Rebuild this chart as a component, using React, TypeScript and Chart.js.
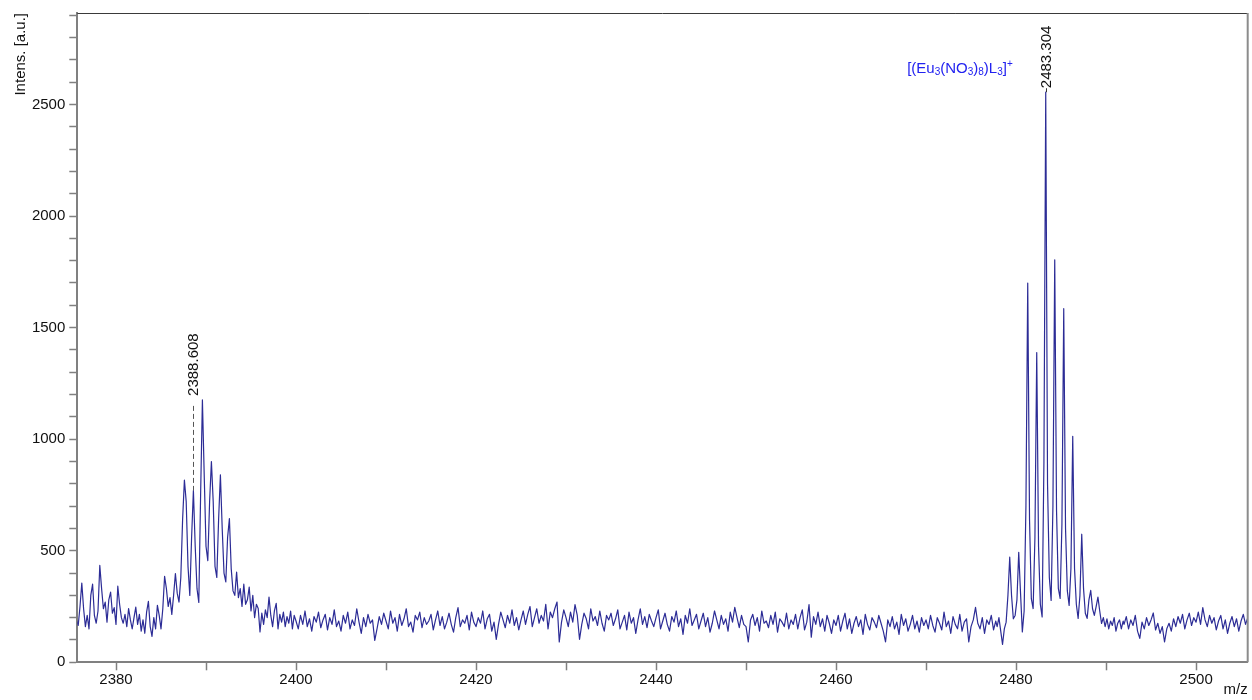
import React, { useEffect, useRef } from 'react';
import { Chart, registerables } from 'chart.js';

Chart.register(...registerables);

// ---------------- data (intensity) ----------------
// Segment 1: m/z 2375.6 .. 2399.8, step 0.2 (left noise + first isotope cluster)
const SEG1_START = 2375.6;
const SEG1_STEP = 0.2;
const SEG1_INTENS = [
  190, 165, 250, 355, 240, 160, 210, 150, 300, 350,
  210, 175, 230, 434, 330, 240, 270, 180, 280, 315,
  220, 245, 170, 341, 260, 200, 175, 215, 160, 241,
  190, 150, 200, 247, 170, 215, 140, 190, 130, 225,
  273, 160, 116, 200, 150, 255, 210, 150, 240, 385,
  330, 250, 290, 215, 300, 398, 310, 270, 380, 640,
  817, 720, 430, 300, 560, 770, 520, 330, 268, 750,
  1176, 840, 520, 456, 720, 900, 720, 430, 380, 640,
  840, 600, 400, 360, 560, 644, 420, 320, 300, 404,
  290, 330, 250, 350, 260, 280, 337, 230, 300, 200,
  260, 241, 136, 220, 170, 235, 200, 292, 210, 160,
  230, 264, 150, 215, 180, 225, 160, 205, 175, 230,
  150, 210,
];

// Segment 2: m/z 2400.00 .. 2477.75, step 0.25 (baseline)
const SEG2_START = 2400.0;
const SEG2_STEP = 0.25;
const SEG2_INTENS = [
  185, 150, 210, 170, 230, 160, 195, 140, 205, 180, 225, 155, 190, 215, 145, 200, 170, 235, 160, 185,
  140, 210, 175, 225, 150, 190, 165, 240, 180, 130, 200, 160, 215, 175, 190, 98, 150, 205, 170, 220,
  185, 150, 230, 175, 200, 140, 215, 165, 195, 240, 160, 180, 135, 210, 190, 225, 155, 200, 170, 185,
  215, 145, 190, 230, 165, 205, 150, 180, 220, 170, 135, 200, 245, 160, 190, 175, 210, 145, 225, 180,
  160, 200, 175, 230, 150, 195, 215, 140, 180, 103, 170, 225, 190, 155, 210, 175, 235, 165, 200, 145,
  190, 230, 170, 215, 250, 160, 200, 240, 175, 210, 185, 260, 150, 225, 200, 240, 270, 91, 180, 235,
  200, 160, 225, 180, 259, 210, 103, 170, 220, 195, 150, 240, 185, 205, 165, 230, 175, 140, 210, 190,
  220, 165, 195, 235, 150, 180, 210, 145, 225, 175, 200, 130, 190, 240, 170, 205, 155, 215, 185, 160,
  200, 235, 150, 185, 220, 170, 140, 205, 180, 230, 160, 195, 125, 210, 175, 240, 165, 190, 215, 150,
  185, 220, 160, 200, 135, 175, 230, 190, 150, 210, 170, 195, 140, 225, 180, 246, 200, 155, 210, 170,
  160, 91, 190, 215, 165, 200, 140, 230, 175, 185, 155, 210, 170, 225, 135, 195, 180, 160, 220, 150,
  190, 170, 215, 150, 200, 235, 145, 180, 259, 113, 205, 170, 225, 160, 195, 140, 210, 175, 130, 190,
  165, 210, 140, 185, 220, 150, 195, 130, 175, 205, 160, 190, 125, 215, 170, 145, 200, 180, 155, 210,
  175, 140, 91, 190, 160, 205, 150, 180, 125, 215, 165, 195, 140, 170, 210, 150, 185, 135, 200, 165,
  190, 150, 210, 165, 135, 200, 175, 145, 225, 160, 185, 130, 205, 170, 150, 215, 140, 180, 195, 91,
  160, 190, 246, 175, 150, 200, 130, 190, 170, 210, 145, 185,
];

// Segment 3: m/z 2477.9 .. 2491.9, step 0.2 (second isotope cluster)
const SEG3_START = 2477.9;
const SEG3_STEP = 0.2;
const SEG3_INTENS = [
  160, 200, 140, 80, 150, 180, 300, 471, 300, 195,
  210, 280, 493, 310, 136, 230, 700, 1700, 640, 285,
  241, 560, 1388, 520, 260, 203, 900, 2555, 800, 380,
  277, 700, 1804, 680, 331, 286, 620, 1585, 600, 320,
  255, 420, 1013, 420, 260, 197, 300, 574, 330, 220,
  197, 280, 322, 240, 210, 250, 292, 230, 174, 200,
  160, 195, 150, 185, 165, 200, 140, 175, 190, 150,
  185,
];

// Segment 4: m/z 2492.00 .. 2505.75, step 0.25 (right baseline)
const SEG4_START = 2492.0;
const SEG4_STEP = 0.25;
const SEG4_INTENS = [
  170, 205, 150, 190, 165, 210, 140, 107, 180, 150,
  200, 165, 190, 221, 145, 175, 130, 160, 91, 150,
  175, 140, 195, 160, 205, 175, 215, 150, 190, 220,
  165, 200, 180, 225, 170, 245, 190, 160, 210, 175,
  200, 145, 185, 210, 150, 190, 130, 175, 205, 160,
  195, 140, 185, 215, 170, 200,
];

const X_MIN = 2375.7;
const X_MAX = 2505.74;
const Y_MIN = 0;
const Y_MAX = 2910;
const X_TICKS = [2380, 2390, 2400, 2410, 2420, 2430, 2440, 2450, 2460, 2470, 2480, 2490, 2500];
const X_TICK_LABELS = ['2380', '', '2400', '', '2420', '', '2440', '', '2460', '', '2480', '', '2500'];
const Y_TICKS = [
  0, 100, 200, 300, 400, 500, 600, 700, 800, 900, 1000, 1100, 1200, 1300, 1400,
  1500, 1600, 1700, 1800, 1900, 2000, 2100, 2200, 2300, 2400, 2500, 2600, 2700, 2800, 2900,
];
const Y_TICK_LABELS = [
  '0', '', '', '', '', '500', '', '', '', '', '1000', '', '', '', '',
  '1500', '', '', '', '', '2000', '', '', '', '', '2500', '', '', '', '',
];
const X_TITLE = 'm/z';
const Y_TITLE = 'Intens. [a.u.]';

const PEAK_LABELS = ['2388.608', '2483.304'];
const PEAK_LABEL_MZ = [2388.608, 2483.304];
const PEAK_LABEL_PEAK = [770, 2555];
const PEAK_LABEL_ANCHOR = [1176, 2555];

const FORMULA_PARTS = ['[(Eu', '3', '(NO', '3', ')', '8', ')L', '3', ']', '+'];
const FORMULA_KINDS = ['n', 'sub', 'n', 'sub', 'n', 'sub', 'n', 'sub', 'n', 'sup'];
const FORMULA_PEAK = 1;

// ---------------- helpers ----------------
const FONT_FAMILY = '"Liberation Sans", Arial, Helvetica, sans-serif';

function segment(start: number, step: number, vals: number[]) {
  return vals.map((v, i) => ({ x: Math.round((start + i * step) * 100) / 100, y: v }));
}

const POINTS = [
  ...segment(SEG1_START, SEG1_STEP, SEG1_INTENS),
  ...segment(SEG2_START, SEG2_STEP, SEG2_INTENS),
  ...segment(SEG3_START, SEG3_STEP, SEG3_INTENS),
  ...segment(SEG4_START, SEG4_STEP, SEG4_INTENS),
];

function fixedTicks(values: number[]) {
  return (s: any) => {
    s.ticks = values.map((v) => ({ value: v }));
  };
}

function labelFor(values: number[], labels: string[]) {
  return (v: any) => {
    const idx = values.indexOf(Number(v));
    return idx >= 0 ? labels[idx] : '';
  };
}

const framePlugin = {
  id: 'frame',
  afterDraw(chart: any) {
    const { ctx, chartArea } = chart;
    const { left, right, top, bottom } = chartArea;
    ctx.save();
    ctx.strokeStyle = '#3a3a3a';
    ctx.lineWidth = 1;
    ctx.beginPath();
    ctx.moveTo(left, top + 0.5);
    ctx.lineTo(right, top + 0.5);
    ctx.stroke();
    ctx.strokeStyle = '#8c8c8c';
    ctx.lineWidth = 2;
    ctx.beginPath();
    ctx.moveTo(right, top);
    ctx.lineTo(right, bottom);
    ctx.stroke();
    ctx.restore();
  },
};

const annotationPlugin = {
  id: 'peakAnnotations',
  afterDatasetsDraw(chart: any) {
    const { ctx } = chart;
    const xs = chart.scales.x;
    const ys = chart.scales.y;
    ctx.save();
    PEAK_LABEL_MZ.forEach((mz, i) => {
      const px = Math.round(xs.getPixelForValue(mz)) + 0.5;
      const peakY = ys.getPixelForValue(PEAK_LABEL_PEAK[i]);
      const anchorY = ys.getPixelForValue(PEAK_LABEL_ANCHOR[i]);
      const textStart = anchorY - 4;
      ctx.save();
      ctx.translate(px, textStart);
      ctx.rotate(-Math.PI / 2);
      ctx.font = `15px ${FONT_FAMILY}`;
      ctx.fillStyle = '#111';
      ctx.textAlign = 'left';
      ctx.textBaseline = 'middle';
      ctx.fillText(PEAK_LABELS[i], 0, 0);
      ctx.restore();
      ctx.lineWidth = 1;
      if (PEAK_LABEL_ANCHOR[i] > PEAK_LABEL_PEAK[i]) {
        ctx.strokeStyle = '#555';
        ctx.setLineDash([5, 3]);
        ctx.beginPath();
        ctx.moveTo(px, anchorY + 6);
        ctx.lineTo(px, peakY);
        ctx.stroke();
        ctx.setLineDash([]);
      } else {
        ctx.strokeStyle = '#333';
        ctx.beginPath();
        ctx.moveTo(px, textStart);
        ctx.lineTo(px, peakY);
        ctx.stroke();
      }
    });

    // formula label next to the second peak
    const fx = xs.getPixelForValue(PEAK_LABEL_MZ[FORMULA_PEAK]) - 33;
    const fy = ys.getPixelForValue(PEAK_LABEL_PEAK[FORMULA_PEAK]) - 19;
    const fontFor = (k: string) => (k === 'n' ? `15px ${FONT_FAMILY}` : `10px ${FONT_FAMILY}`);
    let total = 0;
    FORMULA_PARTS.forEach((t, i) => {
      ctx.font = fontFor(FORMULA_KINDS[i]);
      total += ctx.measureText(t).width;
    });
    let cx = fx - total;
    ctx.fillStyle = '#2222f0';
    ctx.textAlign = 'left';
    ctx.textBaseline = 'alphabetic';
    FORMULA_PARTS.forEach((t, i) => {
      const k = FORMULA_KINDS[i];
      ctx.font = fontFor(k);
      const dy = k === 'sub' ? 2 : k === 'sup' ? -6 : 0;
      ctx.fillText(t, cx, fy + dy);
      cx += ctx.measureText(t).width;
    });
    ctx.restore();
  },
};

export default function App() {
  const canvasRef = useRef<HTMLCanvasElement | null>(null);

  useEffect(() => {
    const canvas = canvasRef.current;
    if (!canvas) return;
    Chart.defaults.font.family = FONT_FAMILY;
    Chart.defaults.font.size = 15;
    Chart.defaults.color = '#111';

    const chart = new Chart(canvas, {
      type: 'line',
      data: {
        datasets: [
          {
            data: POINTS,
            borderColor: 'rgb(44,44,150)',
            borderWidth: 1.2,
            borderJoinStyle: 'round',
            pointRadius: 0,
            tension: 0,
            fill: false,
          },
        ],
      },
      options: {
        animation: false,
        responsive: false,
        devicePixelRatio: 1,
        layout: { padding: { left: 0, right: 4.3, top: 11.7, bottom: 0 } },
        plugins: {
          legend: { display: false },
          tooltip: { enabled: false },
        },
        scales: {
          x: {
            type: 'linear',
            min: X_MIN,
            max: X_MAX,
            afterBuildTicks: fixedTicks(X_TICKS),
            afterFit: (s: any) => {
              s.height = 37.7;
            },
            border: { display: true, color: '#808080', width: 2 },
            grid: {
              drawOnChartArea: false,
              drawTicks: true,
              tickLength: 8,
              tickColor: '#808080',
              tickWidth: 1.5,
            },
            ticks: {
              autoSkip: false,
              maxRotation: 0,
              minRotation: 0,
              padding: 1,
              color: '#111',
              font: { size: 15 },
              callback: labelFor(X_TICKS, X_TICK_LABELS),
            },
            title: {
              display: true,
              text: X_TITLE,
              align: 'end',
              color: '#111',
              font: { size: 15 },
              padding: { top: 0, bottom: 1 },
            },
          },
          y: {
            type: 'linear',
            min: Y_MIN,
            max: Y_MAX,
            afterBuildTicks: fixedTicks(Y_TICKS),
            afterFit: (s: any) => {
              s.width = 77.3;
            },
            border: { display: true, color: '#808080', width: 2 },
            grid: {
              drawOnChartArea: false,
              drawTicks: true,
              tickLength: 8,
              tickColor: '#808080',
              tickWidth: 1.5,
            },
            ticks: {
              autoSkip: false,
              padding: 4,
              color: '#111',
              font: { size: 15 },
              callback: labelFor(Y_TICKS, Y_TICK_LABELS),
            },
            title: {
              display: true,
              text: Y_TITLE,
              align: 'end',
              color: '#111',
              font: { size: 15 },
              padding: { top: 12, bottom: 0 },
            },
          },
        },
      } as any,
      plugins: [framePlugin, annotationPlugin],
    });

    return () => {
      chart.destroy();
    };
  }, []);

  return (
    <div style={{ position: 'fixed', left: 0, top: 0, width: 1252, height: 700, background: '#fff' }}>
      <canvas ref={canvasRef} width={1252} height={700} style={{ display: 'block' }} />
    </div>
  );
}
